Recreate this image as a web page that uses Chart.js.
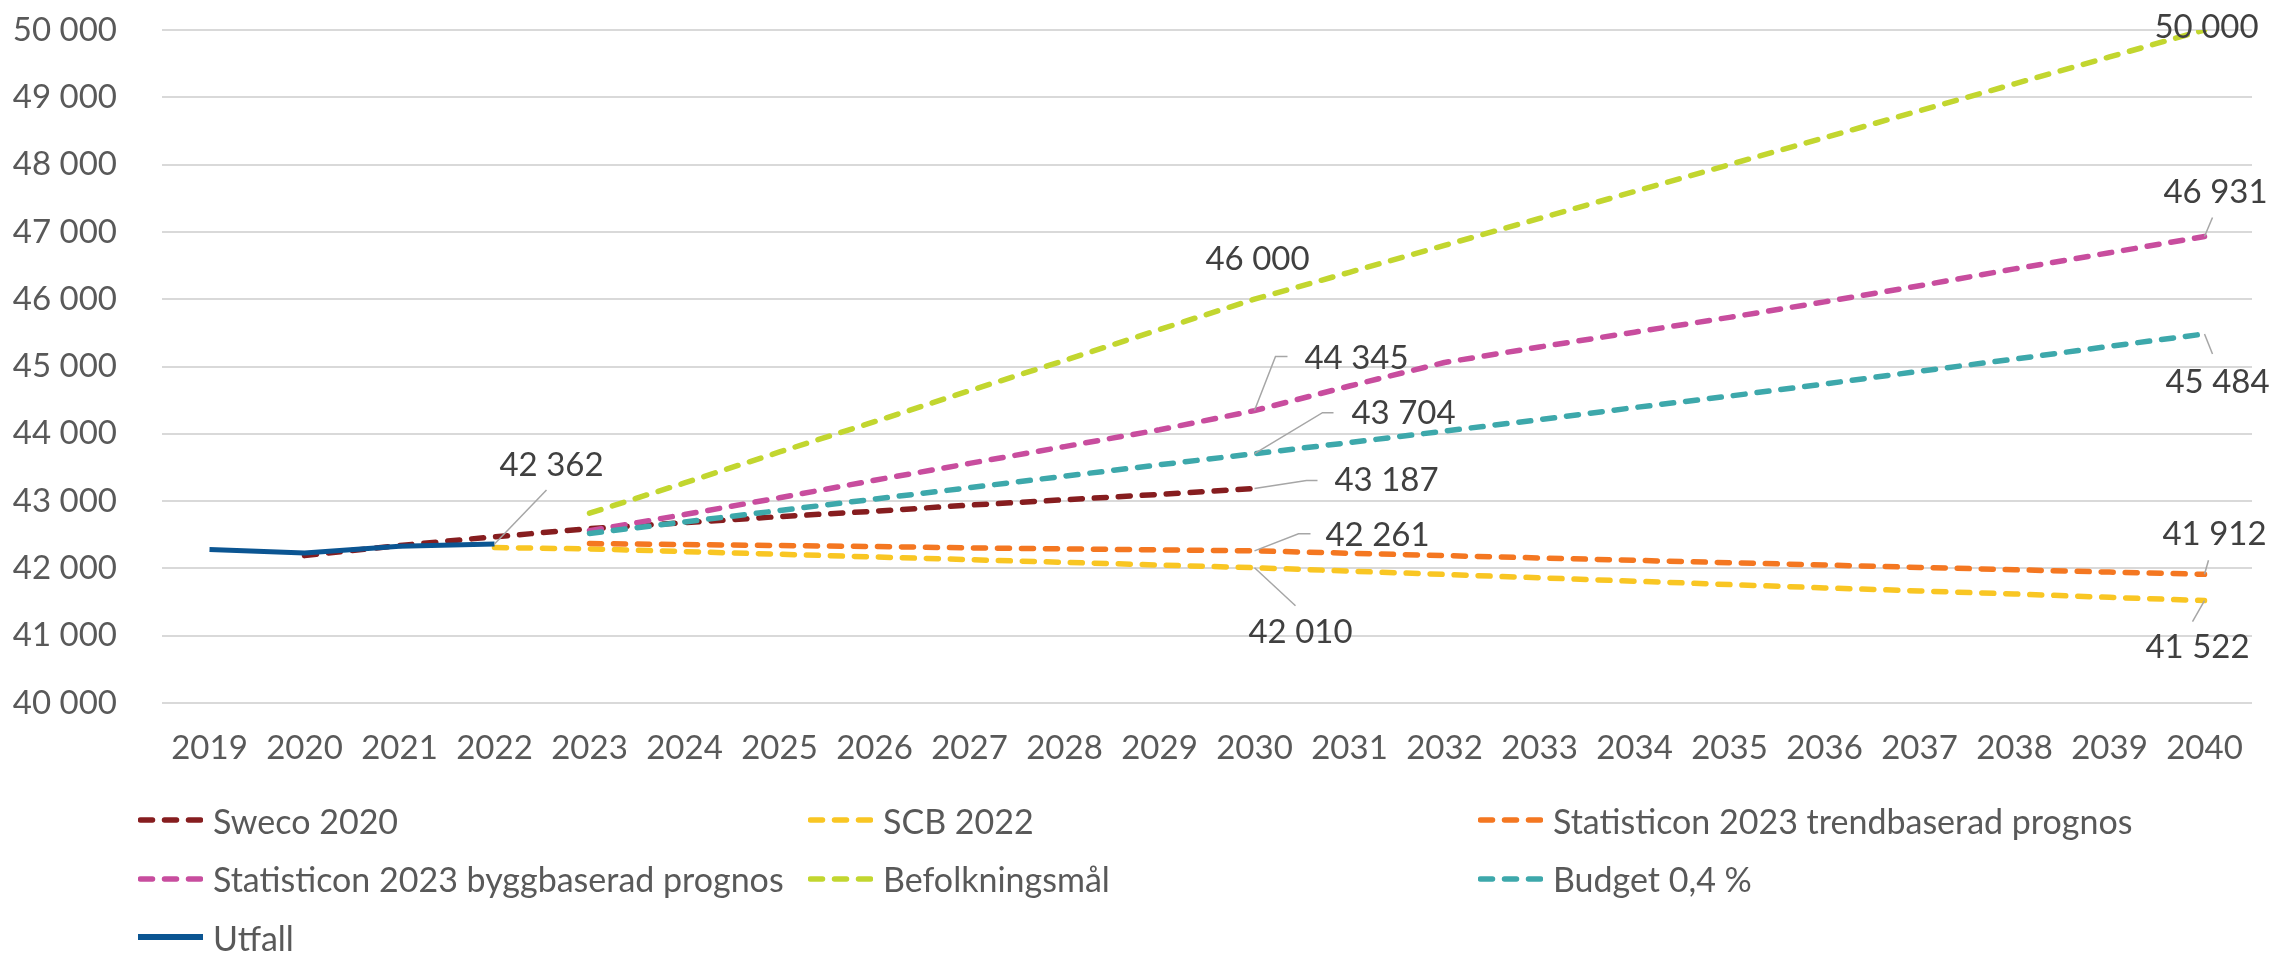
<!DOCTYPE html>
<html>
<head>
<meta charset="utf-8">
<script src="https://cdn.jsdelivr.net/npm/chart.js@4.4.1/dist/chart.umd.min.js"></script>
<style>
  html, body { margin: 0; padding: 0; background: #fff; }
  #wrap { position: relative; width: 2275px; height: 955px; }
  #legend {
    position: absolute; left: 138px; top: 791px;
    display: grid; grid-template-columns: 670px 670px 670px;
    font-family: Lato, sans-serif; font-size: 34px; color: #595959;
  }
  .item { height: 58.5px; display: flex; align-items: center; white-space: nowrap; }
  .item svg { margin-right: 10px; flex: none; }
</style>
</head>
<body>
<div id="wrap">
  <canvas id="chart" width="2275" height="955"></canvas>
  <div id="legend"></div>
</div>
<script>
var years = ['2019','2020','2021','2022','2023','2024','2025','2026','2027','2028','2029',
             '2030','2031','2032','2033','2034','2035','2036','2037','2038','2039','2040'];

var utfall = [42280, 42230, 42330, 42362];
var sweco = [null, 42190, 42340, 42470, 42590, 42680, 42770, 42850, 42940, 43020, 43100, 43187];
var scb = [null, null, null, 42310, 42290, 42250, 42210, 42170, 42130, 42090, 42050,
           42010, 41960, 41910, 41860, 41810, 41760, 41710, 41665, 41620, 41570, 41522];
var trend = [null, null, null, null, 42370, 42355, 42340, 42325, 42305, 42290, 42275,
             42261, 42225, 42190, 42155, 42120, 42085, 42050, 42015, 41980, 41945, 41912];
var bygg = [null, null, null, null, 42560, 42800, 43050, 43310, 43560, 43810, 44060,
            44345, 44710, 45060, 45290, 45510, 45730, 45960, 46200, 46450, 46690, 46931];
var befolkning = [null, null, null, null, 42820, 43270, 43730, 44180, 44640, 45090, 45550,
                  46000, 46400, 46800, 47200, 47600, 48000, 48400, 48800, 49200, 49600, 50000];
var budget = [null, null, null, null, 42520, 42690, 42860, 43030, 43200, 43370, 43540,
              43704, 43870, 44040, 44210, 44390, 44560, 44740, 44930, 45110, 45300, 45484];

// legend order as in the original
var series = [
  {label: 'Sweco 2020', data: sweco, color: '#861D1F', dash: true},
  {label: 'SCB 2022', data: scb, color: '#F9C623', dash: true},
  {label: 'Statisticon 2023 trendbaserad prognos', data: trend, color: '#F47721', dash: true},
  {label: 'Statisticon 2023 byggbaserad prognos', data: bygg, color: '#C84D9E', dash: true},
  {label: 'Befolkningsmål', data: befolkning, color: '#C2D62F', dash: true},
  {label: 'Budget 0,4 %', data: budget, color: '#3DA8AB', dash: true},
  {label: 'Utfall', data: utfall, color: '#0B5592', dash: false}
];

// where the value labels sit, relative to their point (px)
var valueLabels = [
  {series: 'Utfall', year: '2022', dx: 57, dy: -79, leader: [[52, -54]]},
  {series: 'Befolkningsmål', year: '2030', dx: 3, dy: -40},
  {series: 'Statisticon 2023 byggbaserad prognos', year: '2030', dx: 102, dy: -52, leader: [[21, -54], [33, -54]]},
  {series: 'Budget 0,4 %', year: '2030', dx: 149, dy: -40, leader: [[68, -41], [79, -41]]},
  {series: 'Sweco 2020', year: '2030', dx: 132, dy: -8, leader: [[52, -8], [63, -8]]},
  {series: 'Statisticon 2023 trendbaserad prognos', year: '2030', dx: 123, dy: -15, leader: [[44, -17], [56, -17]]},
  {series: 'SCB 2022', year: '2030', dx: 46, dy: 65, leader: [[41, 38]]},
  {series: 'Befolkningsmål', year: '2040', dx: 2, dy: -3},
  {series: 'Statisticon 2023 byggbaserad prognos', year: '2040', dx: 11, dy: -44, leader: [[8, -19]]},
  {series: 'Budget 0,4 %', year: '2040', dx: 13, dy: 48, leader: [[8, 20]]},
  {series: 'Statisticon 2023 trendbaserad prognos', year: '2040', dx: 10, dy: -40, leader: [[4, -14]]},
  {series: 'SCB 2022', year: '2040', dx: -7, dy: 47, leader: [[-12, 21]]}
];

function fmt(v) {
  return String(Math.round(v)).replace(/\B(?=(\d{3})+(?!\d))/g, ' ');
}

var labelPlugin = {
  id: 'valueLabels',
  afterDatasetsDraw: function(chart) {
    var ctx = chart.ctx;
    ctx.save();
    valueLabels.forEach(function(l) {
      var di = chart.data.datasets.findIndex(function(d) { return d.label === l.series; });
      var idx = years.indexOf(l.year);
      var pt = chart.getDatasetMeta(di).data[idx];
      var v = chart.data.datasets[di].data[idx];
      if (l.leader) {
        ctx.beginPath();
        ctx.moveTo(pt.x, pt.y);
        l.leader.forEach(function(p) { ctx.lineTo(pt.x + p[0], pt.y + p[1]); });
        ctx.strokeStyle = '#A6A6A6';
        ctx.lineWidth = 1.5;
        ctx.stroke();
      }
      ctx.font = '33px Lato';
      ctx.fillStyle = '#404040';
      ctx.textAlign = 'center';
      ctx.textBaseline = 'middle';
      ctx.fillText(fmt(v), pt.x + l.dx, pt.y + l.dy);
    });
    ctx.restore();
  }
};

// Excel draws later series on top, Chart.js draws the first dataset on top
var datasets = series.slice().reverse().map(function(s) {
  return {
    label: s.label,
    data: s.data,
    borderColor: s.color,
    backgroundColor: s.color,
    borderWidth: s.dash ? 5.5 : 5,
    borderDash: s.dash ? [12, 12] : [],
    borderCapStyle: s.dash ? 'round' : 'butt',
    borderJoinStyle: 'round',
    pointRadius: 0,
    fill: false,
    tension: 0
  };
});

var ctx = document.getElementById('chart').getContext('2d');
var chart = new Chart(ctx, {
  type: 'line',
  data: { labels: years, datasets: datasets },
  options: {
    responsive: false,
    animation: false,
    layout: { padding: { top: 30, right: 23, bottom: 162, left: 0 } },
    plugins: { legend: { display: false }, tooltip: { enabled: false } },
    scales: {
      x: {
        offset: true,
        grid: { display: false },
        border: { display: false },
        ticks: { color: '#595959', font: { family: 'Lato', size: 33 }, padding: 18, maxRotation: 0, autoSkip: false },
        afterFit: function(scale) { scale.height = 90; }
      },
      y: {
        min: 40000,
        max: 50000,
        grid: { color: '#D9D9D9', lineWidth: 2, drawTicks: false },
        border: { display: false },
        ticks: {
          stepSize: 1000,
          color: '#595959',
          font: { family: 'Lato', size: 33 },
          padding: 45,
          callback: function(v) { return fmt(v); }
        },
        afterFit: function(scale) {
          scale.width = 162;
          // keep the big label gap from pushing the plot down
          scale.paddingTop = 0;
          scale.paddingBottom = 0;
        }
      }
    }
  },
  plugins: [labelPlugin]
});

// html legend, three columns like the original
var legend = document.getElementById('legend');
series.forEach(function(s) {
  var item = document.createElement('div');
  item.className = 'item';
  var line = s.dash
    ? '<line x1="2.5" y1="6" x2="62.5" y2="6" stroke="' + s.color + '" stroke-width="5.5" stroke-dasharray="12 12" stroke-linecap="round"/>'
    : '<line x1="0" y1="6" x2="65" y2="6" stroke="' + s.color + '" stroke-width="6"/>';
  item.innerHTML = '<svg width="65" height="12">' + line + '</svg><span>' + s.label + '</span>';
  legend.appendChild(item);
});
</script>
</body>
</html>
